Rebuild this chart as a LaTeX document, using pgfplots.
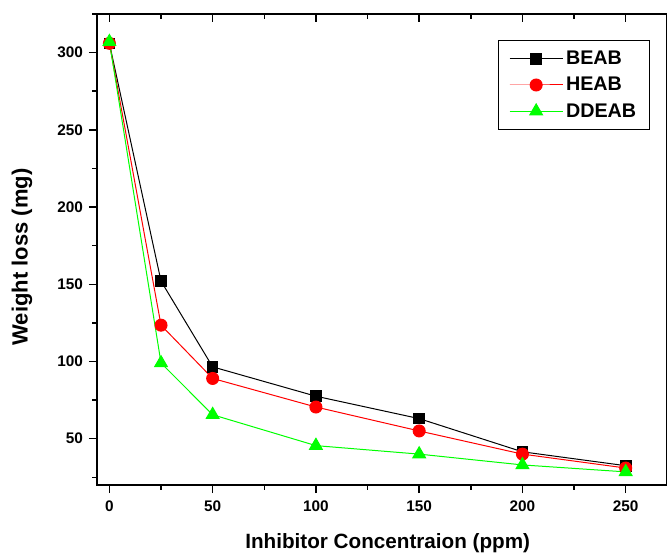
\documentclass[border=0pt]{standalone}
\usepackage{pgfplots}
\pgfplotsset{compat=1.18}
\usepackage{fontspec}
\setmainfont{Liberation Sans}

\begin{document}
\begin{tikzpicture}[x=1pt,y=1pt]
  % common frame: 570 x 471 px at 0.75pt per px
  \pgfplotsset{
    frame/.style={
      scale only axis,
      width=427.5pt,
      height=353.25pt,
      xmin=-6, xmax=270,
      ymin=20, ymax=325,
      axis line style={line width=1.2pt},
      every tick/.style={black, line width=1.1pt},
      major tick length=6pt,
      minor tick length=3.5pt,
      xtick={0,50,...,250},
      ytick={50,100,...,300},
      minor xtick={25,75,...,225},
      minor ytick={25,75,...,325},
    }
  }
  \begin{axis}[
    frame,
    name=main,
    xtick pos=bottom,
    ytick pos=left,
    tick align=outside,
    /pgf/number format/assume math mode=true,
    ticklabel style={font=\fontsize{11.5}{12}\selectfont\bfseries},
    xticklabel style={yshift=-2pt},
    yticklabel style={xshift=-1pt},
    xlabel={Inhibitor Concentraion (ppm)},
    ylabel={Weight loss (mg)},
    xlabel style={font=\fontsize{15.5}{17}\selectfont\bfseries,
      at={(axis description cs:0.51,-0.123)}, anchor=center},
    ylabel style={font=\fontsize{16.5}{18}\selectfont\bfseries,
      at={(axis description cs:-0.1316,0.484)}, anchor=center, rotate=0},
    legend style={
      at={(axis description cs:0.970,0.945)}, anchor=north east,
      draw=black, line width=0.6pt, font=\fontsize{14.8}{16}\selectfont\bfseries,
      row sep=4pt, inner xsep=8pt, inner ysep=6pt,
      /tikz/every even column/.append style={column sep=3pt},
    },
    legend cell align=left,
    legend image code/.code={
      \draw[mark repeat=2,mark phase=2] plot coordinates {(0pt,0pt) (20pt,0pt) (40pt,0pt)};
    },
  ]
    % BEAB
    \addplot[black, line width=0.75pt, mark=square*, mark size=4pt,
             mark options={solid}] coordinates {
      (0,306) (25,152) (50,96.5) (100,77.5) (150,63) (200,41.5) (250,32.5)
    };
    % HEAB
    \addplot[red, line width=0.75pt, mark=*, mark size=4.5pt,
             mark options={solid}] coordinates {
      (0,306) (25,123.5) (50,89) (100,70.5) (150,55) (200,40) (250,31)
    };
    % DDEAB
    \addplot[green, line width=0.75pt, mark=triangle*, mark size=5.5pt,
             mark options={solid}] coordinates {
      (0,307) (25,99) (50,65.5) (100,45.5) (150,40) (200,33) (250,28.5)
    };
    \legend{BEAB, HEAB, DDEAB}
  \end{axis}
  % top ticks point inward
  \begin{axis}[
    frame,
    at={(main.south west)}, anchor=south west,
    axis line style={draw=none},
    xtick pos=top,
    ytick=\empty, minor ytick=\empty,
    tick align=inside,
    xticklabels=\empty,
  ]
  \end{axis}
  % bounding box: the reference is cropped at the axis' right edge
  \pgfresetboundingbox
  \path[use as bounding box]
    ([xshift=-72.75pt,yshift=-52.5pt]main.south west)
    rectangle ([yshift=10.5pt]main.north east);
\end{tikzpicture}
\end{document}
